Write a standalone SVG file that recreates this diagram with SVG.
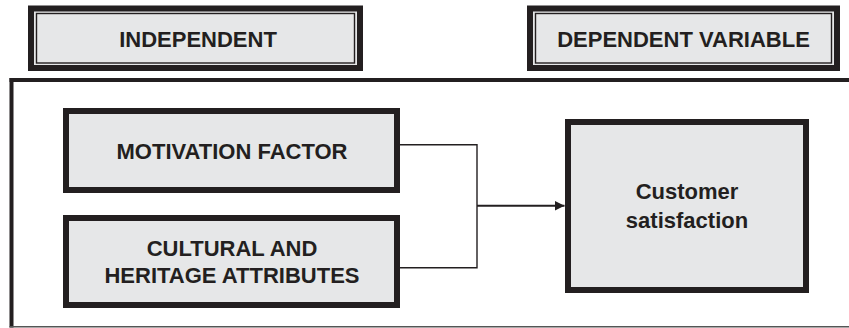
<svg xmlns="http://www.w3.org/2000/svg" width="849" height="328" viewBox="0 0 849 328">
<style>
.hdr{fill:#e6e7e8;stroke:#231f20;stroke-width:6}
.hin{fill:none;stroke:#231f20;stroke-width:1.4}
.node{fill:#e6e7e8;stroke:#231f20;stroke-width:6}
.t{font-family:"Liberation Sans",Arial,sans-serif;font-weight:bold;font-size:22px;fill:#231f20;text-anchor:middle}
.conn{fill:none;stroke:#231f20;stroke-width:1.4}
</style>
<defs>
<marker id="arr" markerWidth="10" markerHeight="10" refX="9.5" refY="5" orient="auto" markerUnits="userSpaceOnUse">
<path d="M0,0.3 L9.5,5 L0,9.7 Z" fill="#231f20"/>
</marker>
</defs>
<rect width="849" height="328" fill="#ffffff"/>
<g id="frame">
<line x1="9.5" y1="80" x2="849" y2="80" stroke="#231f20" stroke-width="4"/>
<line x1="11.5" y1="78" x2="11.5" y2="327.5" stroke="#231f20" stroke-width="4"/>
<line x1="9.5" y1="326.7" x2="849" y2="326.7" stroke="#555" stroke-width="1.6"/>
</g>
<g id="independent">
<rect class="hdr" x="31" y="8.5" width="329" height="59.5"/>
<rect class="hin" x="36.5" y="13.5" width="318" height="49.5"/>
<text class="t" x="198" y="46.5">INDEPENDENT</text>
</g>
<g id="dependent">
<rect class="hdr" x="530" y="8.5" width="307" height="59.5"/>
<rect class="hin" x="535.5" y="13.5" width="296" height="49.5"/>
<text class="t" x="683.5" y="46.5">DEPENDENT VARIABLE</text>
</g>
<g id="motivation">
<rect class="node" x="66" y="111" width="331" height="79"/>
<text class="t" x="232" y="159">MOTIVATION FACTOR</text>
</g>
<g id="cultural">
<rect class="node" x="66" y="218" width="331" height="87"/>
<text class="t" x="232" y="255.5">CULTURAL AND</text>
<text class="t" x="232" y="283">HERITAGE ATTRIBUTES</text>
</g>
<g id="satisfaction">
<rect class="node" x="568" y="122" width="238" height="168"/>
<text class="t" x="687" y="199">Customer</text>
<text class="t" x="687" y="228">satisfaction</text>
</g>
<g id="connectors">
<polyline class="conn" points="400,144.7 477,144.7 477,267.7 400,267.7"/>
<line x1="477" y1="205.7" x2="564.5" y2="205.7" stroke="#231f20" stroke-width="2" marker-end="url(#arr)"/>
</g>
</svg>
